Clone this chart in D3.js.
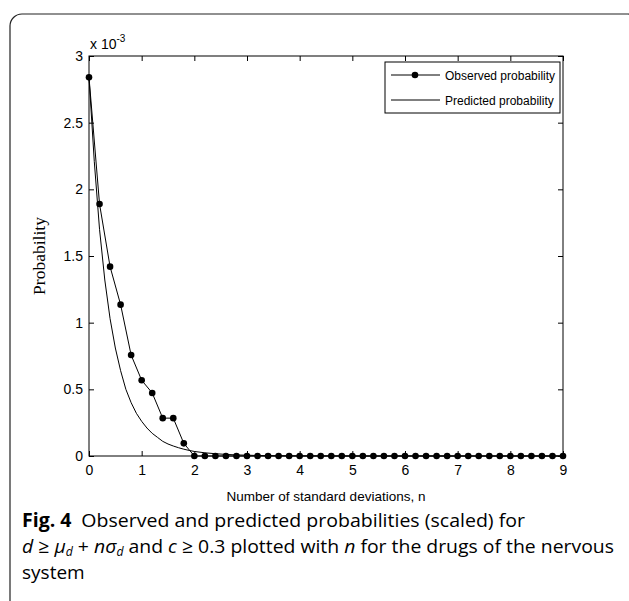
<!DOCTYPE html>
<html>
<head>
<meta charset="utf-8">
<script src="https://cdn.jsdelivr.net/npm/d3@7"></script>
<style>
  body { margin: 0; background: #fff; }
  svg { display: block; }
</style>
</head>
<body>
<svg width="629" height="601"></svg>
<script>
// n values (standard deviations) for the observed series
const nObserved = [0, 0.2, 0.4, 0.6, 0.8, 1, 1.2, 1.4, 1.6, 1.8, 2, 2.2, 2.4, 2.6, 2.8, 3, 3.2, 3.4, 3.6, 3.8,
  4, 4.2, 4.4, 4.6, 4.8, 5, 5.2, 5.4, 5.6, 5.8, 6, 6.2, 6.4, 6.6, 6.8, 7, 7.2, 7.4, 7.6, 7.8,
  8, 8.2, 8.4, 8.6, 8.8, 9];
// observed probability, in units of 1e-3
const observed = [2.84, 1.89, 1.42, 1.135, 0.757, 0.568, 0.473, 0.284, 0.284, 0.095, 0, 0, 0, 0, 0, 0, 0, 0, 0, 0,
  0, 0, 0, 0, 0, 0, 0, 0, 0, 0, 0, 0, 0, 0, 0, 0, 0, 0, 0, 0,
  0, 0, 0, 0, 0, 0];
// predicted curve, in units of 1e-3
const nPredicted = [0, 0.1, 0.2, 0.3, 0.4, 0.5, 0.6, 0.7, 0.8, 0.9, 1, 1.1, 1.2, 1.3, 1.4, 1.5, 1.6, 1.7, 1.8, 1.9,
  2, 2.2, 2.4, 2.6, 2.8, 3, 3.2, 3.4, 3.6, 3.8, 4, 5, 6, 7, 8, 9];
const predicted = [2.84, 2.21, 1.70, 1.32, 1.03, 0.81, 0.64, 0.50, 0.40, 0.32, 0.26, 0.21, 0.17, 0.14, 0.11, 0.09, 0.075, 0.062, 0.051, 0.042,
  0.034, 0.024, 0.017, 0.012, 0.008, 0.006, 0.004, 0.003, 0.002, 0.0015, 0.001, 0, 0, 0, 0, 0];

const xTicks = [0, 1, 2, 3, 4, 5, 6, 7, 8, 9];
const yTicks = [0, 0.5, 1, 1.5, 2, 2.5, 3];
const legendLabels = ['Observed probability', 'Predicted probability'];

const svg = d3.select('svg');

// caption frame (rounded, runs off the right and bottom edges)
svg.append('rect')
  .attr('x', 10).attr('y', 14)
  .attr('width', 630).attr('height', 600)
  .attr('rx', 12)
  .attr('fill', 'none')
  .attr('stroke', '#222')
  .attr('stroke-width', 1.2);

const pL = 89, pR = 563, pT = 56, pB = 456;

const x = d3.scaleLinear().domain([0, 9]).range([pL, pR]);
const y = d3.scaleLinear().domain([0, 3]).range([pB, pT]);

const tickFont = '14px "Liberation Sans", Arial, sans-serif';

// frame
svg.append('rect')
  .attr('x', pL).attr('y', pT)
  .attr('width', pR - pL).attr('height', pB - pT)
  .attr('fill', 'none').attr('stroke', '#000').attr('stroke-width', 1);

// axes with inward ticks
const axB = svg.append('g').attr('transform', `translate(0,${pB})`)
  .call(d3.axisBottom(x).tickValues(xTicks).tickSize(-5).tickPadding(9).tickFormat(d3.format('d')));
const axT = svg.append('g').attr('transform', `translate(0,${pT})`)
  .call(d3.axisTop(x).tickValues(xTicks).tickSize(-5).tickFormat(''));
const axL = svg.append('g').attr('transform', `translate(${pL},0)`)
  .call(d3.axisLeft(y).tickValues(yTicks).tickSize(-5).tickPadding(6).tickFormat(d => d));
const axR = svg.append('g').attr('transform', `translate(${pR},0)`)
  .call(d3.axisRight(y).tickValues(yTicks).tickSize(-5).tickFormat(''));

[axB, axT, axL, axR].forEach(g => {
  g.select('.domain').remove();
  g.selectAll('line').attr('stroke', '#000');
  g.selectAll('text').style('font', tickFont).attr('fill', '#000');
});

// exponent label
const ex = svg.append('text')
  .attr('x', pL + 1).attr('y', 49)
  .style('font', tickFont);
ex.append('tspan').text('x 10');
ex.append('tspan').attr('dy', -7).style('font-size', '10px').text('-3');

// axis titles
svg.append('text')
  .attr('x', (pL + pR) / 2).attr('y', 501)
  .attr('text-anchor', 'middle')
  .style('font', '13.5px "Liberation Sans", Arial, sans-serif')
  .text('Number of standard deviations, n');

svg.append('text')
  .attr('transform', `translate(45,${(pT + pB) / 2}) rotate(-90)`)
  .attr('text-anchor', 'middle')
  .style('font', '17.5px "Liberation Serif", "Times New Roman", serif')
  .text('Probability');

// predicted line
const line = d3.line().x(d => x(d[0])).y(d => y(d[1]));
svg.append('path')
  .datum(nPredicted.map((n, i) => [n, predicted[i]]))
  .attr('d', line)
  .attr('fill', 'none').attr('stroke', '#000').attr('stroke-width', 1);

// observed line + markers
const obs = nObserved.map((n, i) => [n, observed[i]]);
svg.append('path')
  .datum(obs)
  .attr('d', line)
  .attr('fill', 'none').attr('stroke', '#000').attr('stroke-width', 1);
svg.append('g').selectAll('circle')
  .data(obs)
  .join('circle')
  .attr('cx', d => x(d[0])).attr('cy', d => y(d[1]))
  .attr('r', 3.3).attr('fill', '#000');

// legend
const lg = svg.append('g');
lg.append('rect')
  .attr('x', 385).attr('y', 62).attr('width', 175).attr('height', 51)
  .attr('fill', '#fff').attr('stroke', '#000');
legendLabels.forEach((t, i) => {
  const ly = 75 + i * 25;
  lg.append('line').attr('x1', 391).attr('x2', 440).attr('y1', ly).attr('y2', ly)
    .attr('stroke', '#000');
  if (i === 0) lg.append('circle').attr('cx', 415).attr('cy', ly).attr('r', 3.3);
  lg.append('text').attr('x', 445).attr('y', ly + 4.5)
    .style('font', '12px "Liberation Sans", Arial, sans-serif').text(t);
});

// caption
const capFont = '19px "Open Sans", "Noto Sans", sans-serif';
const c1 = svg.append('text').attr('x', 22).attr('y', 527).style('font', capFont)
  .attr('textLength', 503).attr('lengthAdjust', 'spacingAndGlyphs');
c1.append('tspan').attr('font-weight', 'bold').text('Fig. 4');
c1.append('tspan').text('\u2002Observed and predicted probabilities (scaled) for');

const c2 = svg.append('text').attr('x', 22).attr('y', 553).style('font', capFont)
  .attr('textLength', 592).attr('lengthAdjust', 'spacingAndGlyphs');
c2.append('tspan').attr('font-style', 'italic').text('d');
c2.append('tspan').text(' \u2265 ');
c2.append('tspan').attr('font-style', 'italic').text('\u03bc');
c2.append('tspan').attr('font-style', 'italic').attr('dy', 3).style('font-size', '12px').text('d');
c2.append('tspan').attr('dy', -3).text(' + ');
c2.append('tspan').attr('font-style', 'italic').text('n\u03c3');
c2.append('tspan').attr('font-style', 'italic').attr('dy', 3).style('font-size', '12px').text('d');
c2.append('tspan').attr('dy', -3).text(' and ');
c2.append('tspan').attr('font-style', 'italic').text('c');
c2.append('tspan').text(' \u2265 0.3 plotted with ');
c2.append('tspan').attr('font-style', 'italic').text('n');
c2.append('tspan').text(' for the drugs of the nervous');

svg.append('text').attr('x', 22).attr('y', 579).style('font', capFont).text('system');
</script>
</body>
</html>
